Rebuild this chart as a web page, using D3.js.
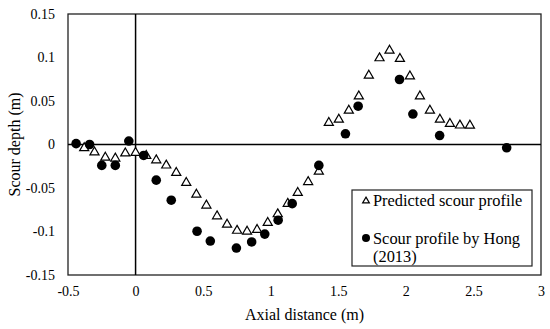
<!DOCTYPE html>
<html>
<head>
<meta charset="utf-8">
<script src="https://cdn.jsdelivr.net/npm/d3@7"></script>
<style>
  body { margin: 0; background: #fff; }
  svg text { font-family: "Liberation Serif", "Times New Roman", serif; fill: #000; }
</style>
</head>
<body>
<div id="graph"></div>
<script>
// predicted scour profile (triangles)
var predX = [-0.38, -0.304, -0.224, -0.15, -0.076, 0, 0.079, 0.153, 0.227, 0.301, 0.375,
  0.45, 0.524, 0.603, 0.677, 0.751, 0.825, 0.899, 0.978, 1.052, 1.126, 1.2, 1.277, 1.356,
  1.43, 1.504, 1.578, 1.652, 1.726, 1.805, 1.879, 1.956, 2.03, 2.104, 2.178, 2.252, 2.326, 2.4, 2.474]
var predY = [-0.004, -0.009, -0.015, -0.016, -0.010, -0.0095, -0.013, -0.018, -0.024, -0.0325, -0.044,
  -0.0575, -0.070, -0.0824, -0.092, -0.099, -0.100, -0.098, -0.090, -0.080, -0.068, -0.0555, -0.043, -0.031,
  0.025, 0.0287, 0.039, 0.0555, 0.0793, 0.0993, 0.108, 0.0985, 0.0785, 0.0555, 0.039, 0.0287, 0.0238, 0.022, 0.0218]

// measured profile by Hong (2013) (circles)
var hongX = [-0.44, -0.34, -0.25, -0.15, -0.05, 0.06, 0.153, 0.264, 0.455, 0.553, 0.746, 0.859,
  0.956, 1.055, 1.159, 1.356, 1.553, 1.647, 1.953, 2.052, 2.25, 2.746]
var hongY = [0.001, 0, -0.024, -0.024, 0.004, -0.0126, -0.041, -0.064, -0.0997, -0.111, -0.119, -0.112,
  -0.103, -0.087, -0.068, -0.024, 0.0123, 0.044, 0.0747, 0.035, 0.0103, -0.0038]

var xTicks = [-0.5, 0, 0.5, 1, 1.5, 2, 2.5, 3]
var yTicks = [-0.15, -0.1, -0.05, 0, 0.05, 0.1, 0.15]
var legendLabels = ['Predicted scour profile', ['Scour profile by Hong', '(2013)']]

var width = 550, height = 329
var margin = {left: 68, right: 9, top: 14, bottom: 54}
var serif = '"Liberation Serif", "Times New Roman", serif'

var x = d3.scaleLinear().domain([-0.5, 3]).range([margin.left, width - margin.right])
var y = d3.scaleLinear().domain([-0.15, 0.15]).range([height - margin.bottom, margin.top])

var svg = d3.select('#graph').append('svg')
    .attr('width', width)
    .attr('height', height)

// plot frame
svg.append('rect')
  .attr('x', x(-0.5)).attr('y', y(0.15))
  .attr('width', x(3) - x(-0.5)).attr('height', y(-0.15) - y(0.15))
  .attr('fill', 'none').attr('stroke', '#222').attr('stroke-width', 1.3)

// axis lines through zero
svg.append('line')
  .attr('x1', x(-0.5)).attr('x2', x(3)).attr('y1', y(0)).attr('y2', y(0))
  .attr('stroke', '#000').attr('stroke-width', 1.5)
svg.append('line')
  .attr('x1', x(0)).attr('x2', x(0)).attr('y1', y(0.15)).attr('y2', y(-0.15))
  .attr('stroke', '#000').attr('stroke-width', 1.5)

// tick labels
var xAxis = svg.append('g')
  .attr('transform', 'translate(0,' + (y(-0.15) + 8) + ')')
  .call(d3.axisBottom(x).tickValues(xTicks).tickSize(0).tickPadding(0).tickFormat(function(d){ return String(d) }))
  .attr('font-family', serif).attr('font-size', 14)
xAxis.select('.domain').remove()
xAxis.selectAll('text').attr('dy', '0.9em')

var yAxis = svg.append('g')
  .attr('transform', 'translate(' + (x(-0.5) - 13) + ',0)')
  .call(d3.axisLeft(y).tickValues(yTicks).tickSize(0).tickPadding(0).tickFormat(function(d){ return String(d) }))
  .attr('font-family', serif).attr('font-size', 14)
yAxis.select('.domain').remove()

// axis titles
svg.append('text')
  .attr('x', (x(-0.5) + x(3)) / 2).attr('y', 320)
  .attr('text-anchor', 'middle').style('font-size', '16px')
  .text('Axial distance (m)')
svg.append('text')
  .attr('transform', 'translate(20,' + ((y(0.15) + y(-0.15)) / 2) + ') rotate(-90)')
  .attr('text-anchor', 'middle').style('font-size', '16px')
  .text('Scour depth (m)')

var tri = d3.symbol().type(d3.symbolTriangle).size(36)

// predicted markers
svg.append('g').selectAll('path')
  .data(d3.zip(predX, predY))
  .enter().append('path')
  .attr('d', tri)
  .attr('transform', function(d){ return 'translate(' + x(d[0]) + ',' + y(d[1]) + ')' })
  .attr('fill', '#fff').attr('stroke', '#000').attr('stroke-width', 1.2)

// measured markers
svg.append('g').selectAll('circle')
  .data(d3.zip(hongX, hongY))
  .enter().append('circle')
  .attr('cx', function(d){ return x(d[0]) })
  .attr('cy', function(d){ return y(d[1]) })
  .attr('r', 4.8)
  .attr('fill', '#000')

// legend
var lg = svg.append('g').attr('transform', 'translate(352,190)')
lg.append('rect').attr('width', 180).attr('height', 76)
  .attr('fill', '#fff').attr('stroke', '#222').attr('stroke-width', 1.2)
lg.append('path').attr('d', d3.symbol().type(d3.symbolTriangle).size(20)).attr('transform', 'translate(14,11)')
  .attr('fill', '#fff').attr('stroke', '#000').attr('stroke-width', 1.2)
lg.append('text').attr('x', 21).attr('y', 16).style('font-size', '16.4px').text(legendLabels[0])
lg.append('circle').attr('cx', 14).attr('cy', 48).attr('r', 4).attr('fill', '#000')
lg.append('text').attr('x', 21).attr('y', 54).style('font-size', '16.4px').text(legendLabels[1][0])
lg.append('text').attr('x', 21).attr('y', 72).style('font-size', '16.4px').text(legendLabels[1][1])
</script>
</body>
</html>
